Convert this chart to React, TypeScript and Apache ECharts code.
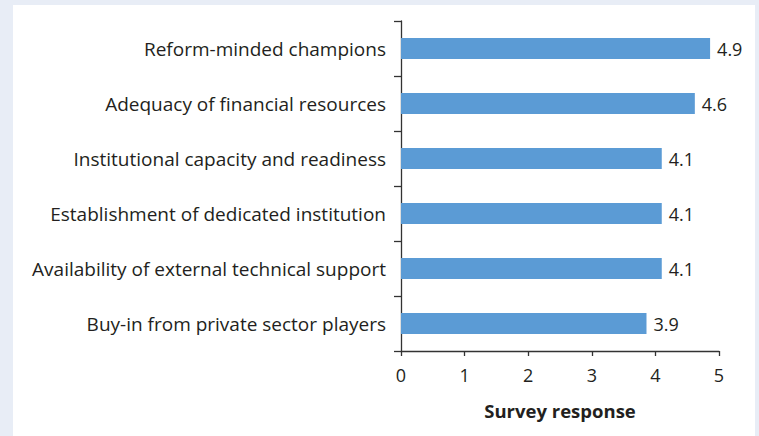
import React, { useEffect, useRef } from "react";
import * as echarts from "echarts";

const categories = [
  "Reform-minded champions",
  "Adequacy of financial resources",
  "Institutional capacity and readiness",
  "Establishment of dedicated institution",
  "Availability of external technical support",
  "Buy-in from private sector players",
];
const values = [4.86, 4.62, 4.1, 4.1, 4.1, 3.86];
const xTicks = [0, 1, 2, 3, 4, 5];

const FONT = "'Open Sans', 'Noto Sans', sans-serif";
const TEXT = "#231f20";

export default function App() {
  const ref = useRef<HTMLDivElement>(null);
  useEffect(() => {
    document.body.style.margin = "0";
    const chart = echarts.init(ref.current!, null, { renderer: "svg" });
    chart.setOption({
      animation: false,
      backgroundColor: "#e8edf6",
      graphic: [
        {
          type: "rect",
          z: -10,
          shape: { x: 13, y: 5, width: 742, height: 440 },
          style: { fill: "#ffffff" },
          silent: true,
        },
      ],
      grid: { left: 401, right: 40, top: 21, bottom: 85, containLabel: false },
      xAxis: {
        type: "value",
        min: xTicks[0],
        max: xTicks[xTicks.length - 1],
        interval: 1,
        name: "Survey response",
        nameLocation: "middle",
        nameGap: 50,
        nameTextStyle: { fontFamily: FONT, fontSize: 18.5, fontWeight: "bold", color: TEXT },
        axisLine: { show: true, lineStyle: { color: "#333", width: 1.3 } },
        axisTick: { show: true, length: 5, lineStyle: { color: "#333", width: 1.3 } },
        axisLabel: { fontFamily: FONT, fontSize: 18, color: TEXT, margin: 15 },
        splitLine: { show: false },
      },
      yAxis: {
        type: "category",
        inverse: true,
        data: categories,
        axisLine: { show: true, lineStyle: { color: "#333", width: 1.3 } },
        axisTick: { show: true, length: 7, alignWithLabel: false, lineStyle: { color: "#333", width: 1.3 } },
        axisLabel: { fontFamily: FONT, fontSize: 19, color: TEXT, margin: 15 },
        splitLine: { show: false },
      },
      series: [
        {
          type: "bar",
          data: values,
          barWidth: 21,
          itemStyle: { color: "#5b9bd5" },
          label: {
            show: true,
            position: "right",
            distance: 7,
            fontFamily: FONT,
            fontSize: 18,
            color: TEXT,
            formatter: (p: any) => Number(p.value).toFixed(1),
          },
        },
      ],
    });
    return () => chart.dispose();
  }, []);
  return <div ref={ref} style={{ width: 759, height: 436 }} />;
}
